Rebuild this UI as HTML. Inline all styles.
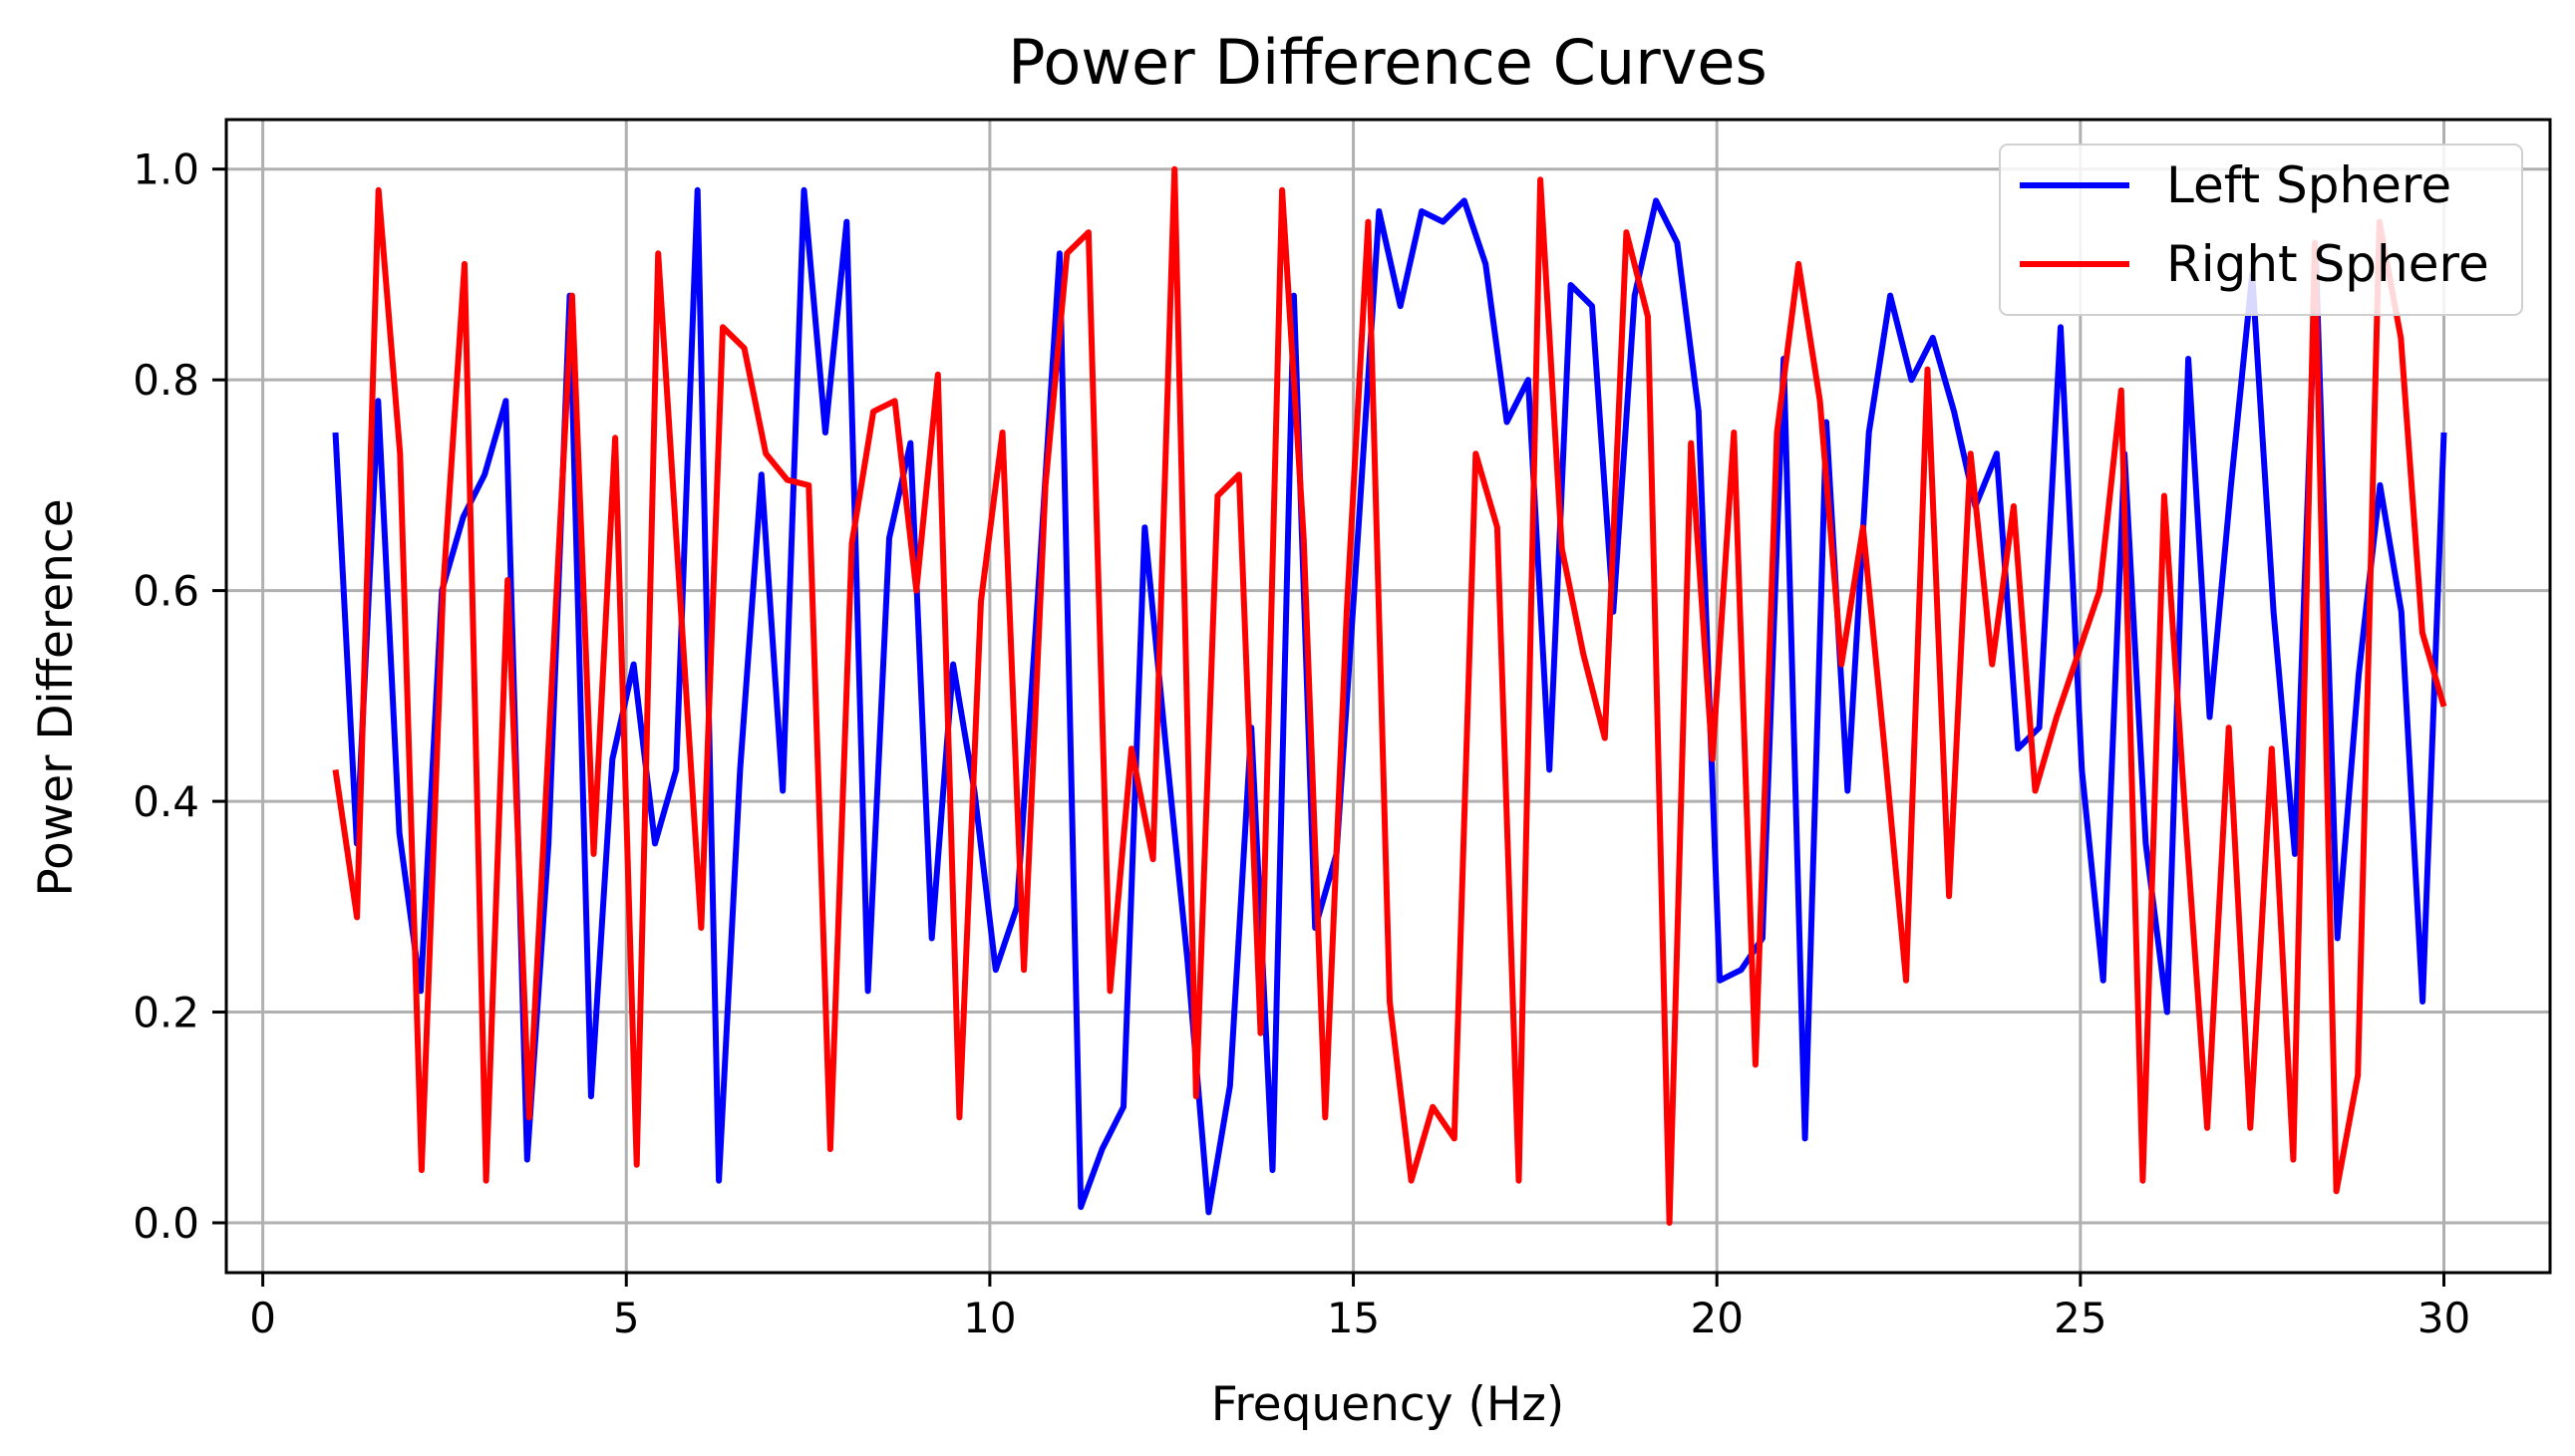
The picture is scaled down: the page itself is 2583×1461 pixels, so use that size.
<!DOCTYPE html>
<html><head><meta charset="utf-8"><style>
html,body{margin:0;padding:0;background:#fff;}
svg{display:block;font-family:"DejaVu Sans","Liberation Sans",sans-serif;}
</style></head><body>
<svg id="chart" width="2583" height="1461" viewBox="0 0 2583 1461">
<text x="1392" y="84" font-size="62" text-anchor="middle" fill="#000">Power Difference Curves</text>
<g id="grid"></g>
<g id="series"></g>
<rect x="227" y="120" width="2331" height="1157" fill="none" stroke="#000" stroke-width="3"/>
<g id="ticks"></g>
<text x="1392" y="1425" font-size="47" text-anchor="middle">Frequency (Hz)</text>
<text x="0" y="0" font-size="47" text-anchor="middle" transform="translate(72,700) rotate(-90)">Power Difference</text>
<g>
<rect x="2006" y="145" width="524" height="171" rx="8" fill="#fff" fill-opacity="0.85" stroke="#d0d0d0" stroke-width="2"/>
<line x1="2026" y1="186" x2="2136" y2="186" stroke="#0000ff" stroke-width="6"/>
<text x="2173" y="203" font-size="50">Left Sphere</text>
<line x1="2026" y1="265" x2="2136" y2="265" stroke="#ff0000" stroke-width="6"/>
<text x="2173" y="282" font-size="50">Right Sphere</text>
</g>
</svg>
<script>
const leftSphere = [0.75,0.36,0.78,0.37,0.22,0.60,0.67,0.71,0.78,0.06,0.36,0.88,0.12,0.44,0.53,0.36,0.43,0.98,0.04,0.43,0.71,0.41,0.98,0.75,0.95,0.22,0.65,0.74,0.27,0.53,0.41,0.24,0.30,0.60,0.92,0.015,0.07,0.11,0.66,0.45,0.25,0.01,0.13,0.47,0.05,0.88,0.28,0.35,0.65,0.96,0.87,0.96,0.95,0.97,0.91,0.76,0.80,0.43,0.89,0.87,0.58,0.88,0.97,0.93,0.77,0.23,0.24,0.27,0.82,0.08,0.76,0.41,0.75,0.88,0.80,0.84,0.77,0.68,0.73,0.45,0.47,0.85,0.43,0.23,0.73,0.36,0.20,0.82,0.48,0.70,0.90,0.58,0.35,0.91,0.27,0.52,0.70,0.58,0.21,0.75];
const rightSphere = [0.43,0.29,0.98,0.73,0.05,0.60,0.91,0.04,0.61,0.10,0.49,0.88,0.35,0.745,0.055,0.92,0.60,0.28,0.85,0.83,0.73,0.705,0.70,0.07,0.645,0.77,0.78,0.60,0.805,0.10,0.59,0.75,0.24,0.70,0.92,0.94,0.22,0.45,0.345,1.0,0.12,0.69,0.71,0.18,0.98,0.65,0.10,0.58,0.95,0.21,0.04,0.11,0.08,0.73,0.66,0.04,0.99,0.64,0.54,0.46,0.94,0.86,0.00,0.74,0.44,0.75,0.15,0.75,0.91,0.78,0.53,0.66,0.45,0.23,0.81,0.31,0.73,0.53,0.68,0.41,0.48,0.54,0.60,0.79,0.04,0.69,0.38,0.09,0.47,0.09,0.45,0.06,0.93,0.03,0.14,0.95,0.84,0.56,0.49];
const xTicks = [0,5,10,15,20,25,30];
const yTicks = [0.0,0.2,0.4,0.6,0.8,1.0];
const fMin = 1, fMax = 30;

const NS = 'http://www.w3.org/2000/svg';
function xs(v){ return 263.6 + v * 72.93; }
function ys(v){ return 1227 - v * 1057.3; }
function mk(tag, attrs, parent){ const e = document.createElementNS(NS, tag); for (const k in attrs) e.setAttribute(k, attrs[k]); parent.appendChild(e); return e; }
const grid = document.getElementById('grid'), ticks = document.getElementById('ticks'), series = document.getElementById('series');
xTicks.forEach(t => {
  const g = mk('line', {x1: xs(t), x2: xs(t), y1: 120, y2: 1277, stroke: '#b0b0b0', 'stroke-width': 3}, grid);
  
  
  const tk = mk('line', {x1: xs(t), x2: xs(t), y1: 1277, y2: 1291, stroke: '#000', 'stroke-width': 3}, ticks);
  
  
  const lb = mk('text', {x: xs(t), y: 1337, 'font-size': 42, 'text-anchor': 'middle'}, ticks);
  lb.textContent = String(t);
  
  
});
yTicks.forEach(t => {
  const g = mk('line', {x1: 227, x2: 2558, y1: ys(t), y2: ys(t), stroke: '#b0b0b0', 'stroke-width': 3}, grid);
  
  
  const tk = mk('line', {x1: 213, x2: 227, y1: ys(t), y2: ys(t), stroke: '#000', 'stroke-width': 3}, ticks);
  
  
  const lb = mk('text', {x: 200, y: ys(t) + 15, 'font-size': 42, 'text-anchor': 'end'}, ticks);
  lb.textContent = t.toFixed(1);
  
  
});
function drawSeries(vals, color, name){
  const n = vals.length;
  const pts = vals.map((v, i) => xs(fMin + (fMax - fMin) * i / (n - 1)).toFixed(1) + ',' + ys(v).toFixed(1)).join(' ');
  const p = mk('polyline', {points: pts, fill: 'none', stroke: color, 'stroke-width': 6, 'stroke-linejoin': 'round'}, series);
  
  
}
drawSeries(leftSphere, '#0000ff', 'left-sphere-line');
drawSeries(rightSphere, '#ff0000', 'right-sphere-line');
</script>
</body></html>
